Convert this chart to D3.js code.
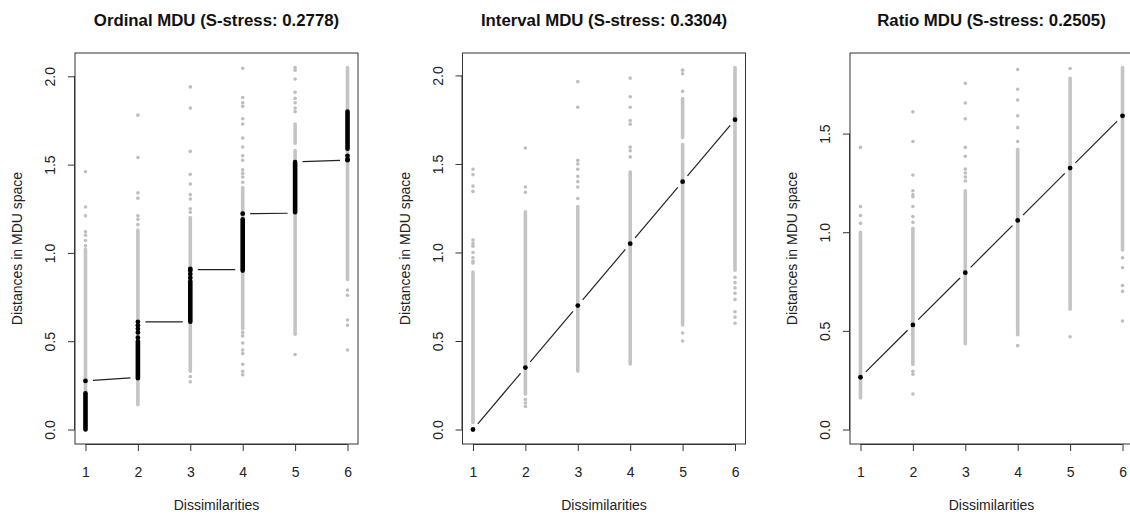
<!DOCTYPE html>
<html>
<head>
<meta charset="utf-8">
<script src="https://cdn.jsdelivr.net/npm/d3@7"></script>
<style>
  body { margin: 0; background: #fff; }
  text { font-family: "Liberation Sans", Arial, Helvetica, sans-serif; }
</style>
</head>
<body>
<svg id="chart" width="1130" height="515"></svg>
<script>
const levels = [1, 2, 3, 4, 5, 6];
const titles = ["Ordinal MDU (S-stress: 0.2778)", "Interval MDU (S-stress: 0.3304)", "Ratio MDU (S-stress: 0.2505)"];

// ordinal: gray = observed distances, dense parts as [level, lo, hi]
const ordGrayBands = [[1, 0.00, 1.02], [2, 0.14, 1.13], [3, 0.33, 1.20], [4, 0.57, 1.37], [5, 0.54, 1.58], [5, 1.62, 1.73], [6, 0.85, 2.05]];
const ordGrayPts = [
  [1.46, 1.26, 1.21, 1.12, 1.10, 1.07, 1.04],
  [1.78, 1.54, 1.34, 1.31, 1.21, 1.19, 1.16],
  [1.94, 1.82, 1.575, 1.445, 1.39, 1.33, 1.305, 1.25, 1.23, 0.30, 0.27],
  [2.045, 1.88, 1.85, 1.83, 1.76, 1.73, 1.65, 1.60, 1.55, 1.525, 1.47, 1.45, 1.43, 1.40, 0.55, 0.53, 0.49, 0.45, 0.43, 0.37, 0.33, 0.31],
  [2.05, 2.035, 1.985, 1.91, 1.875, 1.85, 1.82, 1.80, 0.425],
  [0.79, 0.76, 0.62, 0.59, 0.45]
];
const ordFitBands = [[1, 0.00, 0.205], [2, 0.29, 0.50], [3, 0.61, 0.84], [4, 0.90, 1.19], [5, 1.23, 1.515], [6, 1.59, 1.80]];
const ordFitPts = [[0.275], [0.52, 0.55, 0.57, 0.59, 0.61], [0.86, 0.88, 0.90, 0.91], [1.222], [], [1.55, 1.53, 1.525]];
const ordSteps = [[1, 0.275, 2, 0.295], [2, 0.61, 3, 0.61], [3, 0.905, 4, 0.905], [4, 1.222, 5, 1.225], [5, 1.515, 6, 1.525]];

// interval
const intGrayBands = [[1, 0.04, 0.89], [2, 0.20, 1.23], [3, 0.33, 1.26], [4, 0.37, 1.455], [5, 0.59, 1.61], [5, 1.65, 1.87], [6, 0.90, 2.045]];
const intGrayPts = [
  [1.47, 1.44, 1.375, 1.345, 1.07, 1.05, 1.035, 1.00, 0.97, 0.95, 0.94],
  [1.59, 1.37, 1.34, 0.17, 0.15, 0.13],
  [1.965, 1.82, 1.52, 1.50, 1.47, 1.43, 1.40, 1.37, 1.305],
  [1.985, 1.88, 1.82, 1.745, 1.725, 1.595, 1.575, 1.54],
  [2.03, 2.01, 1.91, 0.545, 0.50],
  [0.86, 0.83, 0.80, 0.77, 0.735, 0.665, 0.635, 0.60]
];
const intFit = [0.00, 0.35, 0.70, 1.05, 1.40, 1.75];

// ratio
const ratGrayBands = [[1, 0.16, 1.00], [2, 0.33, 1.02], [3, 0.435, 1.21], [4, 0.48, 1.42], [5, 0.61, 1.78], [6, 0.91, 1.835]];
const ratGrayPts = [
  [1.43, 1.13, 1.085, 1.045],
  [1.61, 1.46, 1.29, 1.21, 1.19, 1.18, 1.13, 1.08, 1.05, 0.295, 0.28, 0.18],
  [1.755, 1.655, 1.575, 1.43, 1.385, 1.32, 1.30, 1.28, 1.26],
  [1.825, 1.725, 1.67, 1.59, 1.53, 1.46, 0.425],
  [1.83, 0.47],
  [0.87, 0.82, 0.73, 0.70, 0.55]
];
const ratFit = [0.265, 0.53, 0.795, 1.06, 1.325, 1.59];

const fitSegs = fit => d3.pairs(levels.map((l, i) => [l, fit[i]])).map(([a, b]) => [a[0], a[1], b[0], b[1]]);

const panels = [
  { bands: ordGrayBands, pts: ordGrayPts, fitBands: ordFitBands, fitPts: ordFitPts, segs: ordSteps, yticks: [0, 0.5, 1, 1.5, 2] },
  { bands: intGrayBands, pts: intGrayPts, fitBands: [], fitPts: intFit.map(v => [v]), segs: fitSegs(intFit), yticks: [0, 0.5, 1, 1.5, 2] },
  { bands: ratGrayBands, pts: ratGrayPts, fitBands: [], fitPts: ratFit.map(v => [v]), segs: fitSegs(ratFit), yticks: [0, 0.5, 1, 1.5] }
];

const svg = d3.select('#chart');
const pw = 283, plotTop = 53, plotBottom = 444;
const gap = 7.5;

panels.forEach((p, i) => {
  const left = 75 + i * 387.5;
  const right = left + pw;

  // R-style 4% range expansion
  const vals = [0];
  p.bands.forEach(b => vals.push(b[1], b[2]));
  p.pts.forEach(a => vals.push(...a));
  const [lo, hi] = d3.extent(vals);
  const pad = (hi - lo) * 0.04;

  const x = d3.scaleLinear().domain([0.8, 6.2]).range([left, right]);
  const y = d3.scaleLinear().domain([lo - pad, hi + pad]).range([plotBottom, plotTop]);

  const g = svg.append('g');

  // gray observed points
  g.selectAll('rect.band').data(p.bands).enter()
    .append('rect')
    .attr('x', d => x(d[0]) - 1.8)
    .attr('width', 3.6)
    .attr('y', d => y(d[2]) - 1.8)
    .attr('height', d => y(d[1]) - y(d[2]) + 3.6)
    .attr('rx', 1.8)
    .attr('fill', '#c4c4c4');

  const gp = [];
  p.pts.forEach((a, k) => a.forEach(v => gp.push([levels[k], v])));
  g.selectAll('circle.gp').data(gp).enter()
    .append('circle')
    .attr('cx', d => x(d[0]))
    .attr('cy', d => y(d[1]))
    .attr('r', 1.8)
    .attr('fill', '#bebebe');

  // fitted line with gaps round the points (type = "b")
  g.selectAll('line.fit').data(p.segs).enter()
    .append('line')
    .each(function (d) {
      const x0 = x(d[0]), y0 = y(d[1]), x1 = x(d[2]), y1 = y(d[3]);
      const len = Math.hypot(x1 - x0, y1 - y0);
      const ux = (x1 - x0) / len, uy = (y1 - y0) / len;
      d3.select(this)
        .attr('x1', x0 + ux * gap).attr('y1', y0 + uy * gap)
        .attr('x2', x1 - ux * gap).attr('y2', y1 - uy * gap);
    })
    .attr('stroke', '#222')
    .attr('stroke-width', 1.2);

  // black fitted points
  g.selectAll('rect.fb').data(p.fitBands).enter()
    .append('rect')
    .attr('x', d => x(d[0]) - 2.3)
    .attr('width', 4.6)
    .attr('y', d => y(d[2]) - 2.3)
    .attr('height', d => y(d[1]) - y(d[2]) + 4.6)
    .attr('rx', 2.3)
    .attr('fill', '#000');

  const fp = [];
  p.fitPts.forEach((a, k) => a.forEach(v => fp.push([levels[k], v])));
  g.selectAll('circle.fp').data(fp).enter()
    .append('circle')
    .attr('cx', d => x(d[0]))
    .attr('cy', d => y(d[1]))
    .attr('r', 2.4)
    .attr('fill', '#000');

  // box
  g.append('rect')
    .attr('x', left).attr('y', plotTop)
    .attr('width', pw).attr('height', plotBottom - plotTop)
    .attr('fill', 'none')
    .attr('stroke', '#333')
    .attr('stroke-width', 1);

  // x axis
  const xa = g.append('g').attr('transform', `translate(0,${plotBottom})`)
    .call(d3.axisBottom(x).tickValues(levels).tickSize(7).tickFormat(d3.format('d')));
  xa.select('.domain').attr('d', `M${x(1)},0.5H${x(6)}`).attr('stroke', '#333');
  xa.selectAll('.tick line').attr('stroke', '#333');
  xa.selectAll('text').attr('font-size', 14).attr('fill', '#222').attr('dy', '0.35em').attr('y', 28);

  // y axis
  const ya = g.append('g').attr('transform', `translate(${left},0)`)
    .call(d3.axisLeft(y).tickValues(p.yticks).tickSize(7).tickFormat(d3.format('.1f')));
  ya.select('.domain').attr('d', `M-0.5,${y(p.yticks[0])}V${y(p.yticks[p.yticks.length - 1])}`).attr('stroke', '#333');
  ya.selectAll('.tick line').attr('stroke', '#333');
  ya.selectAll('.tick text')
    .attr('font-size', 14).attr('fill', '#222')
    .attr('x', null).attr('dy', null)
    .attr('text-anchor', 'middle')
    .attr('transform', 'translate(-20,0) rotate(-90)');

  // labels
  g.append('text')
    .attr('x', (left + right) / 2).attr('y', 26)
    .attr('text-anchor', 'middle')
    .attr('font-size', 16.8).attr('font-weight', 'bold').attr('fill', '#111')
    .text(titles[i]);

  g.append('text')
    .attr('x', (left + right) / 2).attr('y', 510)
    .attr('text-anchor', 'middle')
    .attr('font-size', 14).attr('fill', '#222')
    .text('Dissimilarities');

  g.append('text')
    .attr('transform', `translate(${left - 53},${(plotTop + plotBottom) / 2}) rotate(-90)`)
    .attr('text-anchor', 'middle')
    .attr('font-size', 14).attr('fill', '#222')
    .text('Distances in MDU space');
});
</script>
</body>
</html>
